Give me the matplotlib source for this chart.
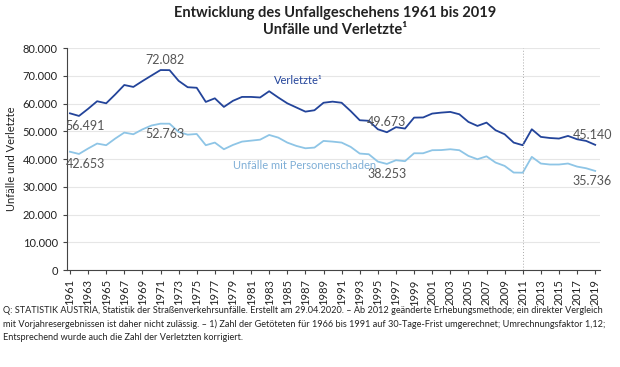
import matplotlib.pyplot as plt
from matplotlib.ticker import FuncFormatter, MultipleLocator

years = list(range(1961, 2020))

verletzte = [
    56491, 55550, 58100, 60850, 60100, 63300, 66700, 66000, 68100, 70100,
    72082, 72050, 68200, 65900, 65700, 60600, 61900, 58800, 61000, 62400,
    62400, 62200, 64450, 62200, 60100, 58600, 57100, 57600, 60300, 60700,
    60300, 57300, 54000, 53800, 50750, 49673, 51500, 51000, 54950, 55000,
    56400, 56750, 57000, 56150, 53400, 51950, 53150, 50400, 48950, 45950,
    45000, 50750, 48000, 47600, 47400, 48350, 47150, 46550, 45140,
]

unfaelle = [
    42653, 41850, 43800, 45600, 45000, 47400, 49550, 48950, 50700, 52100,
    52763, 52750, 49800, 48800, 49050, 45000, 45950, 43550, 45100, 46300,
    46650, 47000, 48700, 47750, 45950, 44750, 43900, 44150, 46550, 46300,
    45950, 44400, 42000, 41750, 39100, 38253, 39600, 39250, 42100, 42100,
    43200, 43250, 43550, 43200, 41150, 39950, 41000, 38750, 37550, 35150,
    35100, 40800, 38400, 38050, 38050, 38400, 37300, 36700, 35736,
]

annotations = [
    (1961, 56491, "56.491"), (1961, 42653, "42.653"),
    (1971.5, 72082, "72.082"), (1971.5, 52763, "52.763"),
    (1996, 49673, "49.673"), (1996, 38253, "38.253"),
    (2019, 45140, "45.140"), (2019, 35736, "35.736"),
]

footnote = (
    "Q: STATISTIK AUSTRIA, Statistik der Straßenverkehrsunfälle. Erstellt am 29.04.2020. – "
    "Ab 2012 geänderte Erhebungsmethode; ein direkter Vergleich\n"
    "mit Vorjahresergebnissen ist daher nicht zulässig. – 1) Zahl der Getöteten für 1966 bis 1991 "
    "auf 30-Tage-Frist umgerechnet; Umrechnungsfaktor 1,12;\n"
    "Entsprechend wurde auch die Zahl der Verletzten korrigiert."
)

plt.rcParams["font.family"] = ["Lato", "DejaVu Sans"]

dark = "#23449a"
light = "#8ec5e6"
grey = "#555555"

fig = plt.figure(figsize=(6.2, 3.67), dpi=100)
ax = fig.add_axes([0.108, 0.264, 0.86, 0.605])

ax.plot(years, verletzte, color=dark, lw=1.3)
ax.plot(years, unfaelle, color=light, lw=1.3)
ax.axvline(2011, color="#aaaaaa", lw=0.7, ls=(0, (1, 2)))

ax.set_xlim(1960.67, 2019.55)
ax.set_ylim(0, 80000)
ax.yaxis.set_major_locator(MultipleLocator(10000))
ax.yaxis.set_major_formatter(FuncFormatter(lambda v, p: f"{int(v):,}".replace(",", ".")))
ax.set_xticks(years[::2])
ax.set_xticklabels([str(y) for y in years[::2]], rotation=90)
ax.grid(axis="y", color="#e6e6e6", lw=0.8)
ax.set_axisbelow(True)

for s in ["top", "right"]:
    ax.spines[s].set_visible(False)
for s in ["left", "bottom"]:
    ax.spines[s].set_color("#444444")
    ax.spines[s].set_linewidth(0.8)
ax.tick_params(colors="#444444", labelcolor="#222222", labelsize=8, length=3, width=0.8)

ax.set_ylabel("Unfälle und Verletzte", fontsize=8, color="#222222", labelpad=4)

offsets = {"56.491": (-0.5, -4600, "left"), "42.653": (-0.5, -4600, "left"),
           "72.082": (0, 3700, "center"), "52.763": (0, -3600, "center"),
           "49.673": (0, 3600, "center"), "38.253": (0, -3600, "center"),
           "45.140": (-0.3, 3500, "center"), "35.736": (-0.3, -3600, "center")}
for x, y, t in annotations:
    dx, dy, ha = offsets[t]
    ax.text(x + dx, y + dy, t, fontsize=9, color=grey, ha=ha, va="center")

ax.text(1983.5, 68200, "Verletzte¹", fontsize=8, color=dark, va="center")
ax.text(1979, 37800, "Unfälle mit Personenschaden", fontsize=8, color="#7eaed6", va="center")

fig.text(0.54, 0.965, "Entwicklung des Unfallgeschehens 1961 bis 2019", ha="center",
         va="center", fontsize=10.5, fontweight="bold", color="#222222")
fig.text(0.54, 0.918, "Unfälle und Verletzte¹", ha="center", va="center",
         fontsize=10.5, fontweight="bold", color="#222222")

fig.text(0.005, 0.165, footnote, ha="left", va="top", fontsize=6.6, color="#222222",
         linespacing=1.55)

fig.savefig("out.png", dpi=100)
